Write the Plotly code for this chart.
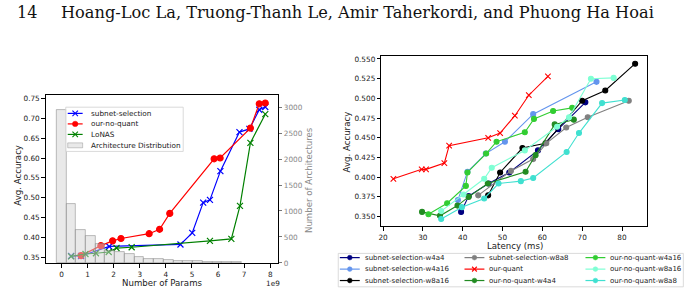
import plotly.graph_objects as go

W, H = 692, 298
def X(px): return px / W
def Y(py): return 1 - py / H

# ---------------- Left chart data ----------------
ss_params = [0.37, 0.75, 1.83, 4.56, 5.01, 5.43, 5.69, 6.09, 6.82, 7.20, 7.58, 7.81]
ss_acc = [0.354, 0.354, 0.378, 0.383, 0.412, 0.488, 0.495, 0.567, 0.665, 0.673, 0.721, 0.728]
onq_params = [0.75, 1.51, 1.96, 2.28, 3.36, 3.76, 4.15, 5.85, 6.08, 7.24, 7.58, 7.81]
onq_acc = [0.355, 0.380, 0.392, 0.398, 0.410, 0.421, 0.461, 0.598, 0.600, 0.675, 0.736, 0.738]
lonas_params = [0.37, 0.92, 1.32, 1.81, 2.11, 2.69, 5.69, 6.51, 6.84, 7.24, 7.81]
lonas_acc = [0.353, 0.359, 0.361, 0.364, 0.374, 0.376, 0.392, 0.397, 0.480, 0.638, 0.710]
hist_centers = [0.0, 0.373, 0.746, 1.119, 1.492, 1.865, 2.238, 2.611, 2.984, 3.357,
                3.730, 4.103, 4.476, 4.849, 5.222, 5.595, 5.968, 6.341, 6.714]
hist_counts = [2940, 1135, 625, 525, 365, 225, 205, 165, 120, 65, 70, 60, 45, 35, 30, 25, 18, 12, 8]
hist_width = 0.373

# ---------------- Right chart data ----------------
ss_w4a4_lat = [39.6, 41.5, 46.5, 51.7, 58.9, 64.0, 70.8]
ss_w4a4_acc = [0.356, 0.376, 0.392, 0.406, 0.434, 0.461, 0.495]
ss_w4a16_lat = [38.8, 41.2, 45.8, 50.6, 57.7, 73.6]
ss_w4a16_acc = [0.371, 0.407, 0.430, 0.445, 0.480, 0.521]
ss_w8a16_lat = [46.4, 49.4, 55.0, 60.8, 70.0, 75.8, 83.3]
ss_w8a16_acc = [0.377, 0.406, 0.437, 0.443, 0.497, 0.510, 0.544]
ss_w8a8_lat = [43.9, 52.1, 57.7, 61.0, 66.0, 71.4, 81.7]
ss_w8a8_acc = [0.377, 0.408, 0.423, 0.443, 0.463, 0.476, 0.497]
oq_lat = [22.6, 29.7, 30.8, 35.4, 36.6, 46.4, 49.4, 53.1, 56.6, 61.4]
oq_acc = [0.398, 0.410, 0.410, 0.418, 0.440, 0.450, 0.456, 0.478, 0.504, 0.528]
onq_w4a4_lat = [29.8, 34.3, 38.7, 41.5, 46.3, 55.8, 58.3, 63.1, 67.9]
onq_w4a4_acc = [0.356, 0.351, 0.364, 0.375, 0.392, 0.407, 0.428, 0.467, 0.473]
onq_w4a16_lat = [31.4, 36.1, 40.8, 41.2, 45.9, 48.5, 55.6, 57.9, 62.7, 67.5]
onq_w4a16_acc = [0.353, 0.367, 0.389, 0.406, 0.430, 0.445, 0.457, 0.474, 0.484, 0.488]
onq_w8a16_lat = [34.6, 40.2, 45.4, 47.3, 55.6, 63.7, 66.7, 72.2, 77.9]
onq_w8a16_acc = [0.357, 0.378, 0.398, 0.412, 0.434, 0.464, 0.476, 0.525, 0.526]
onq_w8a8_lat = [34.6, 39.8, 45.4, 49.0, 54.6, 57.7, 66.1, 69.2, 75.0, 80.7]
onq_w8a8_acc = [0.347, 0.362, 0.373, 0.392, 0.395, 0.399, 0.432, 0.456, 0.494, 0.498]

left_y_ticks = [0.35, 0.40, 0.45, 0.50, 0.55, 0.60, 0.65, 0.70, 0.75]
left_x_ticks = [0, 1, 2, 3, 4, 5, 6, 7, 8]
count_ticks = [0, 500, 1000, 1500, 2000, 2500, 3000]
right_y_ticks = [0.350, 0.375, 0.400, 0.425, 0.450, 0.475, 0.500, 0.525, 0.550]
right_x_ticks = [20, 30, 40, 50, 60, 70, 80]

header_page = "14"
header_authors = "Hoang-Loc La, Truong-Thanh Le, Amir Taherkordi, and Phuong Ha Hoai"

FONT = "DejaVu Sans"
TICK = 7.3
TITLE = 8.6

fig = go.Figure()

# left chart lines (accuracy axis y)
left_series = [
    ("subnet-selection", ss_params, ss_acc, "#0000ff", "x-thin-open"),
    ("our-no-quant", onq_params, onq_acc, "#ff0000", "circle"),
    ("LoNAS", lonas_params, lonas_acc, "#008000", "x-thin-open"),
]
for name, xs, ys, col, sym in left_series:
    fig.add_trace(go.Scatter(
        x=xs, y=ys, name=name, mode="lines+markers", xaxis="x", yaxis="y",
        line=dict(color=col, width=1.2),
        marker=dict(symbol=sym, size=6, color=col, line=dict(color=col, width=1.2)),
        showlegend=False, hoverinfo="skip"))

# histogram (count axis y2, overlaying -> drawn on top with transparency)
fig.add_trace(go.Bar(
    x=hist_centers, y=hist_counts, width=hist_width, xaxis="x", yaxis="y2",
    marker=dict(color="rgba(211,211,211,0.5)", line=dict(color="rgba(128,128,128,0.5)", width=1)),
    showlegend=False, hoverinfo="skip"))

# right chart
right_series = [
    ("subnet-selection-w4a4", ss_w4a4_lat, ss_w4a4_acc, "#000080", "circle"),
    ("subnet-selection-w4a16", ss_w4a16_lat, ss_w4a16_acc, "#6495ed", "circle"),
    ("subnet-selection-w8a16", ss_w8a16_lat, ss_w8a16_acc, "#000000", "circle"),
    ("subnet-selection-w8a8", ss_w8a8_lat, ss_w8a8_acc, "#808080", "circle"),
    ("our-quant", oq_lat, oq_acc, "#ff0000", "x-thin-open"),
    ("our-no-quant-w4a4", onq_w4a4_lat, onq_w4a4_acc, "#228b22", "circle"),
    ("our-no-quant-w4a16", onq_w4a16_lat, onq_w4a16_acc, "#32cd32", "circle"),
    ("our-no-quant-w8a16", onq_w8a16_lat, onq_w8a16_acc, "#7fffd4", "circle"),
    ("our-no-quant-w8a8", onq_w8a8_lat, onq_w8a8_acc, "#40e0d0", "circle"),
]
for name, xs, ys, col, sym in right_series:
    fig.add_trace(go.Scatter(
        x=xs, y=ys, name=name, mode="lines+markers", xaxis="x3", yaxis="y3",
        line=dict(color=col, width=1.1),
        marker=dict(symbol=sym, size=5 if sym == "circle" else 5.5,
                    color=col, line=dict(color=col, width=1.1)),
        showlegend=False, hoverinfo="skip"))

axis_common = dict(showline=True, linecolor="black", linewidth=1.2, mirror=True,
                   ticks="outside", ticklen=3.5, tickwidth=0.8, tickcolor="black",
                   showgrid=False, zeroline=False,
                   tickfont=dict(family=FONT, size=TICK, color="#222"))

fig.update_layout(
    width=W, height=H, margin=dict(l=0, r=0, t=0, b=0),
    paper_bgcolor="white", plot_bgcolor="white", showlegend=False,
    bargap=0,
    xaxis=dict(domain=[X(43), X(276)], range=[-0.6, 8.29], anchor="y",
               tickvals=left_x_ticks, ticktext=[str(v) for v in left_x_ticks], **axis_common),
    yaxis=dict(domain=[Y(266.7), Y(95.7)], range=[0.3359, 0.7579], anchor="x",
               tickvals=left_y_ticks, ticktext=["%.2f" % v for v in left_y_ticks], **axis_common),
    yaxis2=dict(overlaying="y", side="right", anchor="x", range=[-5, 3230],
                showline=False, ticks="outside", ticklen=3.5, tickwidth=0.8, tickcolor="#777",
                showgrid=False, zeroline=False, tickvals=count_ticks,
                tickfont=dict(family=FONT, size=TICK, color="#888")),
    xaxis3=dict(domain=[X(380), X(647.3)], range=[19.58, 86.4], anchor="y3",
                tickvals=right_x_ticks, **axis_common),
    yaxis3=dict(domain=[Y(229), Y(56)], range=[0.3379, 0.5537], anchor="x3",
                tickvals=right_y_ticks, ticktext=["%.3f" % v for v in right_y_ticks], **axis_common),
)

ann = []
def text(px, py, s, size, color="#222", xanchor="center", yanchor="middle", angle=0, family=FONT):
    ann.append(dict(x=X(px), y=Y(py), xref="paper", yref="paper", text=s, showarrow=False,
                    xanchor=xanchor, yanchor=yanchor, textangle=angle,
                    font=dict(family=family, size=size, color=color)))

# header
text(12, 12, header_page, 16, color="#111", xanchor="left", family="DejaVu Serif")
text(56, 12, header_authors, 16.2, color="#111", xanchor="left", family="DejaVu Serif")

# axis titles
text(15, 176.7, "Avg. Accuracy", TITLE, angle=-90)
text(160, 287, "Number of Params", TITLE)
text(280, 287.5, "1e9", TICK, xanchor="right")
text(306.7, 181.7, "Number of Architectures", TITLE, color="#888", angle=-90)
text(345, 143.3, "Avg. Accuracy", TITLE, angle=-90)
text(514, 249, "Latency (ms)", TITLE)

shapes = []
def rect(x0, y0, x1, y1, fill, line, lw=0.8):
    shapes.append(dict(type="rect", xref="paper", yref="paper", x0=X(x0), x1=X(x1), y0=Y(y0), y1=Y(y1),
                       fillcolor=fill, line=dict(color=line, width=lw), layer="above"))

def glyph(x0, x1, py, col, sym, msize):
    shapes.append(dict(type="line", xref="paper", yref="paper", x0=X(x0), x1=X(x1), y0=Y(py), y1=Y(py),
                       line=dict(color=col, width=1.2), layer="above"))
    cx = (x0 + x1) / 2
    r = msize / 2
    if sym == "circle":
        shapes.append(dict(type="circle", xref="paper", yref="paper", x0=X(cx - r), x1=X(cx + r),
                           y0=Y(py + r), y1=Y(py - r), fillcolor=col, line=dict(color=col, width=0.5),
                           layer="above"))
    else:
        for dy in (-1, 1):
            shapes.append(dict(type="line", xref="paper", yref="paper", x0=X(cx - r), x1=X(cx + r),
                               y0=Y(py - dy * r), y1=Y(py + dy * r), line=dict(color=col, width=1.1),
                               layer="above"))

# left legend
rect(63, 108, 181, 153, "rgba(255,255,255,0.8)", "#d0d0d0")
rows = [114.3, 125.0, 135.7]
for (name, xs, ys, col, sym), py in zip(left_series, rows):
    glyph(65, 80, py, col, sym, 5.5)
    text(86, py, name, 7.3, xanchor="left")
rect(65, 144.3, 80, 149.3, "rgba(211,211,211,0.5)", "rgba(128,128,128,0.5)")
text(86, 146.7, "Architecture Distribution", 7.3, xanchor="left")

# right legend
rect(336.7, 256.7, 683.3, 290.7, "white", "#d0d0d0")
cols = [(338.3, 358.3, 361.7), (463.5, 483.5, 486.0), (585.0, 605.0, 607.3)]
rrows = [261.0, 272.7, 284.3]
for i, (name, xs, ys, col, sym) in enumerate(right_series):
    c = cols[i // 3]
    py = rrows[i % 3]
    glyph(c[0], c[1], py, col, sym, 4.8)
    text(c[2], py, name, 7.0, xanchor="left")

fig.update_layout(annotations=ann, shapes=shapes)
fig.write_html("out.html")
